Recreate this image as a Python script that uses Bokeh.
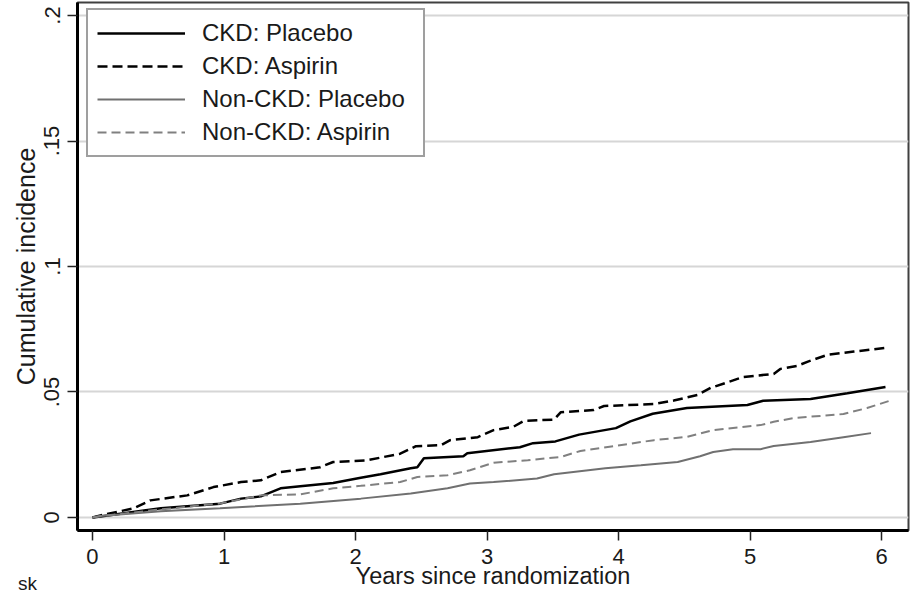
from bokeh.plotting import figure
from bokeh.models import Range1d, FixedTicker, Legend, LegendItem, Div
from bokeh.layouts import column
from bokeh.embed import file_html
from bokeh.resources import INLINE

# ---- data ----
years_ckd_placebo = [0.0, 0.06, 0.52, 0.97, 1.13, 1.28, 1.43, 1.58, 1.83, 2.04, 2.19, 2.42, 2.47, 2.52,
                     2.82, 2.85, 3.25, 3.35, 3.52, 3.70, 3.98, 4.09, 4.26, 4.52, 4.98, 5.10, 5.46, 5.74, 6.03]
inc_ckd_placebo = [0.0, 0.0004, 0.0037, 0.0055, 0.0075, 0.0084, 0.0116, 0.0124, 0.0137, 0.0158, 0.0172, 0.0196,
                   0.0200, 0.0236, 0.0244, 0.0256, 0.0280, 0.0296, 0.0303, 0.0330, 0.0356, 0.0383, 0.0413,
                   0.0436, 0.0448, 0.0465, 0.0472, 0.0495, 0.0520]

years_ckd_aspirin = [0.0, 0.06, 0.31, 0.44, 0.72, 0.92, 1.13, 1.28, 1.43, 1.73, 1.83, 2.09, 2.34, 2.46, 2.65,
                     2.72, 2.93, 3.05, 3.20, 3.28, 3.51, 3.56, 3.81, 3.89, 4.27, 4.42, 4.60, 4.70, 4.95, 5.18,
                     5.23, 5.36, 5.44, 5.59, 5.79, 6.05]
inc_ckd_aspirin = [0.0, 0.0008, 0.0036, 0.0068, 0.0088, 0.0121, 0.0141, 0.0148, 0.0181, 0.0200, 0.0221, 0.0228,
                   0.0254, 0.0284, 0.0288, 0.0308, 0.0320, 0.0348, 0.0361, 0.0385, 0.0390, 0.0419, 0.0428,
                   0.0444, 0.0452, 0.0466, 0.0488, 0.0516, 0.0560, 0.0572, 0.0592, 0.0604, 0.0621, 0.0648,
                   0.0661, 0.0677]

years_non_placebo = [0.0, 0.06, 0.52, 0.97, 1.58, 2.04, 2.42, 2.70, 2.87, 3.05, 3.38, 3.51, 3.90, 4.17, 4.45,
                     4.62, 4.72, 4.87, 5.08, 5.18, 5.46, 5.71, 5.92]
inc_non_placebo = [0.0, 0.0006, 0.0025, 0.0037, 0.0055, 0.0075, 0.0095, 0.0116, 0.0135, 0.0141, 0.0155, 0.0172,
                   0.0196, 0.0208, 0.0221, 0.0244, 0.0261, 0.0272, 0.0272, 0.0285, 0.0301, 0.0320, 0.0336]

years_non_aspirin = [0.0, 0.06, 0.52, 0.97, 1.28, 1.58, 1.83, 2.04, 2.34, 2.47, 2.70, 2.87, 3.05, 3.31, 3.56,
                     3.71, 4.01, 4.27, 4.52, 4.72, 5.08, 5.18, 5.33, 5.71, 5.89, 6.08]
inc_non_aspirin = [0.0, 0.0005, 0.0032, 0.0056, 0.0088, 0.0092, 0.0116, 0.0126, 0.0141, 0.0161, 0.0168, 0.0188,
                   0.0218, 0.0228, 0.0241, 0.0265, 0.0288, 0.0308, 0.0321, 0.0348, 0.0368, 0.0381, 0.0396,
                   0.0412, 0.0436, 0.0468]

series_labels = ["CKD: Placebo", "CKD: Aspirin", "Non-CKD: Placebo", "Non-CKD: Aspirin"]
x_ticks = [0, 1, 2, 3, 4, 5, 6]
y_ticks = [0, 0.05, 0.1, 0.15, 0.2]
y_tick_labels = ["0", ".05", ".1", ".15", ".2"]
x_title = "Years since randomization"
y_title = "Cumulative incidence"
corner_note = "sk"

FONT = "Liberation Sans"
TXT = "#1a1a1a"

p = figure(width=911, height=594, output_backend="svg", toolbar_location=None,
           x_range=Range1d(-0.114, 6.205), y_range=Range1d(-0.0052, 0.2052),
           min_border_left=77, min_border_right=3, min_border_top=2, min_border_bottom=64)
p.background_fill_color = "white"
p.border_fill_color = "white"
p.outline_line_color = "#404040"
p.outline_line_width = 2

# axes
p.xaxis.ticker = FixedTicker(ticks=x_ticks)
p.yaxis.ticker = FixedTicker(ticks=y_ticks)
p.yaxis.major_label_overrides = {t: s for t, s in zip(y_ticks, y_tick_labels)}
p.yaxis.major_label_orientation = "vertical"
for ax in (p.xaxis[0], p.yaxis[0]):
    ax.axis_line_color = "black"
    ax.axis_line_width = 3
    ax.major_tick_line_color = "#222222"
    ax.major_tick_line_width = 1.5
    ax.major_tick_in = 0
    ax.major_tick_out = 10
    ax.minor_tick_line_color = None
    ax.major_label_text_font = FONT
    ax.major_label_text_font_size = "22px"
    ax.major_label_text_color = TXT
    ax.axis_label_text_font = FONT
    ax.axis_label_text_font_style = "normal"
    ax.axis_label_text_color = TXT
p.xaxis.axis_label_text_font_size = "23.5px"
p.yaxis.axis_label_text_font_size = "25px"
p.xaxis.major_label_standoff = 8
p.xaxis.axis_label = x_title
p.xaxis.axis_label_standoff = -4
p.yaxis.major_label_standoff = 8
p.yaxis.axis_label = y_title
p.yaxis.axis_label_standoff = 2

p.xgrid.grid_line_color = None
p.ygrid.ticker = FixedTicker(ticks=y_ticks)
p.ygrid.grid_line_color = "#d6d6d6"
p.ygrid.grid_line_width = 2

# curves
r1 = p.line(years_ckd_placebo, inc_ckd_placebo, line_color="black", line_width=2.5)
r2 = p.line(years_ckd_aspirin, inc_ckd_aspirin, line_color="black", line_width=2.5, line_dash="10 5")
r3 = p.line(years_non_placebo, inc_non_placebo, line_color="#707070", line_width=2)
r4 = p.line(years_non_aspirin, inc_non_aspirin, line_color="#808080", line_width=2, line_dash="9 5")

legend = Legend(items=[LegendItem(label=series_labels[i], renderers=[r]) for i, r in enumerate([r1, r2, r3, r4])],
                location=(9, 373))
legend.label_text_font = FONT
legend.label_text_font_size = "24px"
legend.label_text_color = TXT
legend.glyph_width = 88
legend.glyph_height = 26
legend.label_height = 26
legend.label_width = 212
legend.label_standoff = 17
legend.spacing = 5
legend.padding = 9
legend.margin = 0
legend.border_line_color = "#404040"
legend.border_line_width = 2
legend.background_fill_color = "white"
legend.background_fill_alpha = 1
p.add_layout(legend, "center")

# small note in the bottom-left corner, overlapping the figure's bottom border
note = Div(text=corner_note, width=40, height=20, margin=(-20, 0, 0, 18),
           styles={"font-family": FONT, "font-size": "19px", "color": TXT, "line-height": "20px"})

layout = column(p, note, spacing=0)
open("out.html", "w").write(file_html(layout, INLINE))
